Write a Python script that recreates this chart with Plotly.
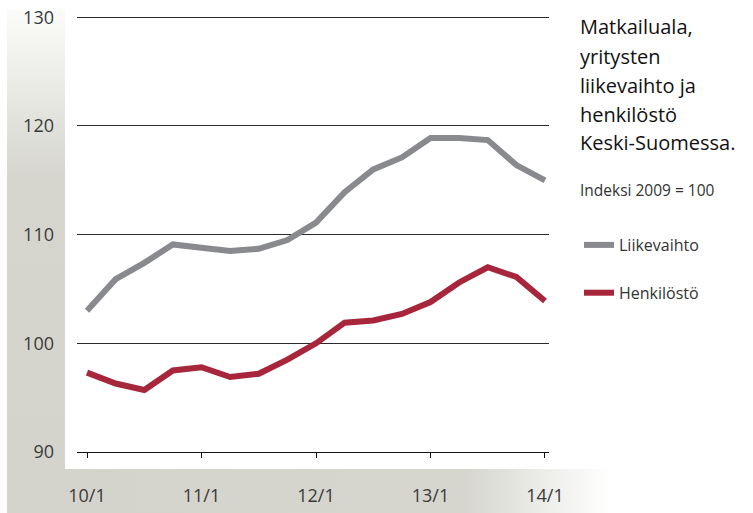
import base64
import plotly.graph_objects as go

# ---- data ----
quarters = ["10/1", "10/2", "10/3", "10/4", "11/1", "11/2", "11/3", "11/4",
            "12/1", "12/2", "12/3", "12/4", "13/1", "13/2", "13/3", "13/4", "14/1"]
liikevaihto = [103.0, 105.9, 107.4, 109.1, 108.8, 108.5, 108.7, 109.5,
               111.1, 113.9, 116.0, 117.1, 118.9, 118.9, 118.7, 116.4, 115.0]
henkilosto = [97.3, 96.3, 95.7, 97.5, 97.8, 96.9, 97.2, 98.5,
              100.0, 101.9, 102.1, 102.7, 103.8, 105.6, 107.0, 106.1, 103.9]
x_tickvals = [0, 4, 8, 12, 16]
x_ticktext = ["10/1", "11/1", "12/1", "13/1", "14/1"]
y_tickvals = [90, 100, 110, 120, 130]

GRAY = "#898a8e"
RED = "#a7263b"
W, H = 753, 513
L, R, T, B = 77, 204, 14, 61

xs = list(range(len(quarters)))

fig = go.Figure()
fig.add_trace(go.Scatter(x=xs, y=liikevaihto, mode="lines", name="Liikevaihto",
                         line=dict(color=GRAY, width=6), legendgroup="a",
                         customdata=quarters, hovertemplate="%{customdata}: %{y}<extra></extra>"))
fig.add_trace(go.Scatter(x=xs, y=henkilosto, mode="lines", name="Henkilöstö",
                         line=dict(color=RED, width=6), legendgroup="b",
                         customdata=quarters, hovertemplate="%{customdata}: %{y}<extra></extra>"))

# background strips (gradient) as an SVG image behind the plot
svg = f'''<svg xmlns="http://www.w3.org/2000/svg" width="{W}" height="{H}" viewBox="0 0 {W} {H}" preserveAspectRatio="none">
<defs>
<linearGradient id="gv" x1="0" y1="0" x2="0" y2="1">
<stop offset="0" stop-color="#fbfbf9"/><stop offset="0.33" stop-color="#d6d6cf"/><stop offset="1" stop-color="#d4d4cd"/>
</linearGradient>
<linearGradient id="gh" x1="0" y1="0" x2="1" y2="0">
<stop offset="0" stop-color="#d4d4cd"/><stop offset="0.76" stop-color="#d6d6cf"/><stop offset="1" stop-color="#ffffff"/>
</linearGradient>
</defs>
<rect x="7" y="10" width="58" height="503" fill="url(#gv)"/>
<rect x="7" y="469" width="603" height="44" fill="url(#gh)"/>
</svg>'''
uri = "data:image/svg+xml;base64," + base64.b64encode(svg.encode()).decode()
pw, ph = W - L - R, H - T - B
fig.add_layout_image(dict(source=uri, xref="paper", yref="paper",
                          x=-L / pw, y=(ph + T) / ph, sizex=W / pw, sizey=H / ph,
                          xanchor="left", yanchor="top", sizing="stretch", layer="below"))

FONT = "Open Sans"
title_lines = ["Matkailuala,", "yritysten", "liikevaihto ja", "henkilöstö", "Keski-Suomessa."]
title_y = [27, 56, 85, 114, 143]
for txt, py in zip(title_lines, title_y):
    fig.add_annotation(text=txt, xref="paper", yref="paper",
                       x=(578 - L) / pw, y=(T + ph - py) / ph, xanchor="left", yanchor="middle",
                       showarrow=False, font=dict(family=FONT, size=20, color="#111111"))
fig.add_annotation(text="Indeksi 2009 = 100", xref="paper", yref="paper",
                   x=(578 - L) / pw, y=(T + ph - 190) / ph, xanchor="left", yanchor="middle",
                   showarrow=False, font=dict(family=FONT, size=15.5, color="#333333"))

fig.update_layout(
    width=W, height=H, autosize=False,
    margin=dict(l=L, r=R, t=T, b=B, pad=0, autoexpand=False),
    paper_bgcolor="white", plot_bgcolor="rgba(0,0,0,0)",
    font=dict(family=FONT, color="#333333"),
    showlegend=True,
    legend=dict(xref="container", yref="container", x=579 / W, y=1 - 228 / H,
                xanchor="left", yanchor="top",
                bgcolor="rgba(0,0,0,0)", tracegroupgap=24,
                font=dict(family=FONT, size=16, color="#333333")),
    xaxis=dict(range=[-0.35, 16.14], tickvals=x_tickvals, ticktext=x_ticktext,
               showgrid=False, zeroline=False, showline=True, linecolor="#111111", linewidth=1,
               ticks="outside", ticklen=5, tickcolor="#111111", tickwidth=1,
               ticklabelstandoff=22, tickfont=dict(family=FONT, size=18, color="#3a3a3a")),
    yaxis=dict(range=[90, 130.3], tickvals=y_tickvals, showgrid=True, gridcolor="#2a2a2a",
               gridwidth=1, zeroline=False, showline=False, ticks="",
               ticklabelstandoff=22, tickfont=dict(family=FONT, size=18, color="#3a3a3a")),
)

fig.write_html("out.html", config={"displayModeBar": False},
               post_script="document.body.style.margin='0';")
